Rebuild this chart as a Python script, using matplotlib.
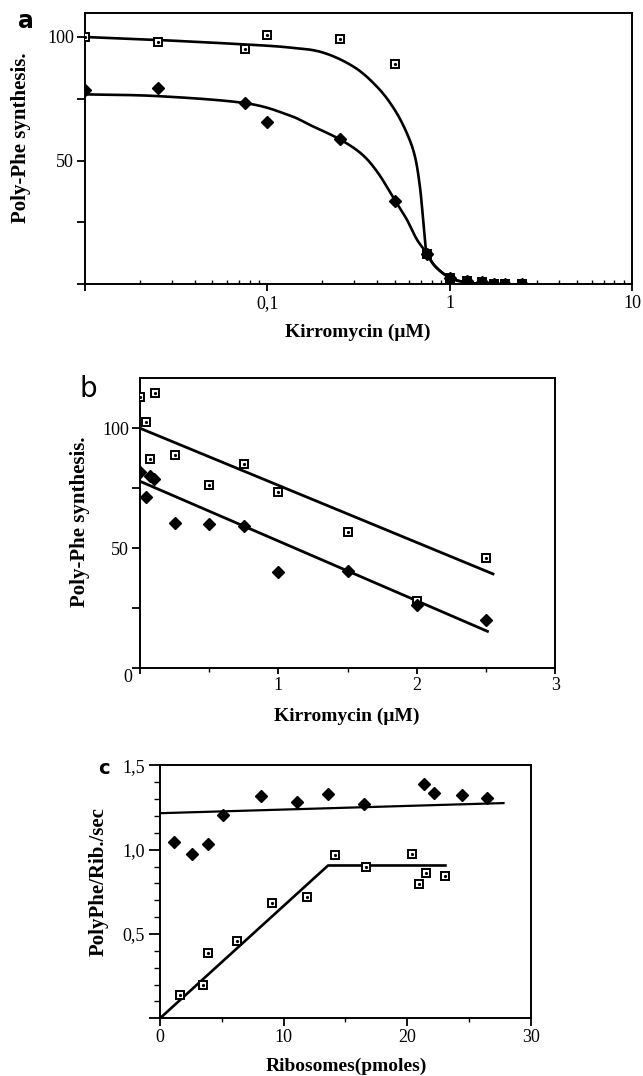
import numpy as np
import matplotlib
matplotlib.use('Agg')
import matplotlib.pyplot as plt
from matplotlib.ticker import FixedLocator, NullFormatter

# ---- panel a: kirromycin dose (log scale) ----
a_open_x = [0.01, 0.025, 0.075, 0.1, 0.25, 0.5, 0.75, 1.0, 1.25, 1.5, 1.75, 2.0, 2.5]
a_open_y = [100, 98.0, 95.0, 100.9, 99.1, 88.9, 12.4, 2.7, 1.2, 0.9, 0.3, 0.3, 0.3]
a_fill_x = [0.01, 0.025, 0.075, 0.1, 0.25, 0.5, 0.75, 1.0, 1.25, 1.5, 1.75, 2.0, 2.5]
a_fill_y = [78.4, 79.5, 73.3, 65.8, 58.6, 33.6, 12.4, 2.7, 1.2, 0.9, 0.3, 0.3, 0.3]

# hand-drawn fit curves (nodes)
a_curve_open_x = [0.01, 0.025, 0.075, 0.13, 0.2, 0.3, 0.404, 0.497, 0.581, 0.644,
                  0.686, 0.715, 0.737, 0.752, 0.83, 1.0, 1.25, 1.7, 2.5]
a_curve_open_y = [100, 98.8, 97.0, 95.8, 93.8, 87.8, 79.5, 70.8, 61.3, 51.9,
                  39.8, 26.3, 15.5, 12.4, 7.4, 2.7, 0.7, 0.0, 0.0]
a_curve_fill_x = [0.01, 0.025, 0.075, 0.129, 0.176, 0.25, 0.33, 0.404, 0.497,
                  0.581, 0.66, 0.752, 0.83, 1.0, 1.25, 1.7, 2.5]
a_curve_fill_y = [76.8, 76.1, 73.3, 68.6, 64.0, 58.6, 52.6, 45.1, 34.4,
                  26.3, 18.2, 12.4, 7.4, 2.7, 0.7, 0.0, 0.0]

# ---- panel b: kirromycin dose (linear) ----
b_open_x = [0.0, 0.107, 0.045, 0.074, 0.25, 0.5, 0.75, 1.0, 1.5, 2.0, 2.5]
b_open_y = [113.1, 114.5, 102.8, 87.2, 88.8, 76.4, 85.2, 73.5, 56.9, 28.2, 46.0]
b_fill_x = [0.0, 0.045, 0.074, 0.104, 0.25, 0.5, 0.75, 1.0, 1.5, 2.0, 2.5]
b_fill_y = [81.6, 71.3, 80.2, 79.0, 60.5, 60.1, 59.3, 40.3, 40.6, 26.4, 20.2]
# straight fits: intercept, slope, end of line
b_fit_open = (100.0, -23.8, 2.55)
b_fit_fill = (77.9, -24.9, 2.51)

# ---- panel c: ribosomes ----
c_fill_x = [1.1, 2.6, 3.9, 5.1, 8.2, 11.1, 13.6, 16.5, 21.4, 22.2, 24.4, 26.5]
c_fill_y = [1.046, 0.976, 1.034, 1.208, 1.32, 1.28, 1.328, 1.27, 1.388, 1.336, 1.324, 1.306]
c_open_x = [1.6, 3.5, 3.9, 6.2, 9.1, 11.9, 14.2, 16.7, 20.4, 21.0, 21.5, 23.1]
c_open_y = [0.136, 0.20, 0.39, 0.458, 0.684, 0.722, 0.966, 0.896, 0.976, 0.796, 0.864, 0.844]
c_line_fill_x = [0.0, 27.8]
c_line_fill_y = [1.216, 1.276]
c_line_open_x = [0.0, 13.6, 23.1]
c_line_open_y = [0.0, 0.906, 0.906]

W, H = 643, 1076
fig = plt.figure(figsize=(W / 100, H / 100), dpi=100)

serif = 'Liberation Serif'
tick_fs = 13
xlab_fs = 14
ylab_fs = 15


def rect(l, t, r, b):
    return [l / W, 1 - b / H, (r - l) / W, (b - t) / H]


def ftext(x, y, s, **kw):
    fig.text(x / W, 1 - y / H, s, **kw)


def smooth(xs, ys, n=20):
    # catmull-rom through the nodes, in log-x space
    px = np.log10(np.asarray(xs, float))
    py = np.asarray(ys, float)
    px = np.concatenate([[2 * px[0] - px[1]], px, [2 * px[-1] - px[-2]]])
    py = np.concatenate([[2 * py[0] - py[1]], py, [2 * py[-1] - py[-2]]])
    ox, oy = [], []
    t = np.linspace(0, 1, n, endpoint=False)
    for i in range(1, len(px) - 2):
        for arr, out in ((px, ox), (py, oy)):
            p0, p1, p2, p3 = arr[i - 1], arr[i], arr[i + 1], arr[i + 2]
            out.extend(0.5 * (2 * p1 + (-p0 + p2) * t + (2 * p0 - 5 * p1 + 4 * p2 - p3) * t ** 2
                              + (-p0 + 3 * p1 - 3 * p2 + p3) * t ** 3))
    ox.append(px[-2])
    oy.append(py[-2])
    return 10 ** np.array(ox), np.clip(np.array(oy), 0, None)


def open_sq(ax, x, y):
    ax.plot(x, y, ls='none', marker='s', ms=5.8, mfc='white', mec='black', mew=1.4, zorder=4)
    ax.plot(x, y, ls='none', marker='o', ms=1.3, mfc='black', mec='black', zorder=5)


def filled_dia(ax, x, y):
    ax.plot(x, y, ls='none', marker='D', ms=6.0, mfc='black', mec='black', zorder=4)


def style(ax):
    for s in ax.spines.values():
        s.set_linewidth(1.4)
    for lab in ax.get_xticklabels() + ax.get_yticklabels():
        lab.set_fontfamily(serif)
        lab.set_fontsize(tick_fs)


# ---------------- a ----------------
ax = fig.add_axes(rect(85, 13, 632, 284.3))
ax.plot(*smooth(a_curve_open_x, a_curve_open_y), color='black', lw=1.9, zorder=3)
ax.plot(*smooth(a_curve_fill_x, a_curve_fill_y), color='black', lw=1.9, zorder=3)
open_sq(ax, a_open_x, a_open_y)
filled_dia(ax, a_fill_x, a_fill_y)
ax.set_xscale('log')
ax.set_xlim(0.01, 10)
ax.set_ylim(0, 109.7)
ax.set_xticks([0.01, 0.1, 1, 10])
ax.set_xticklabels(['', '0,1', '1', '10'])
ax.xaxis.set_minor_locator(FixedLocator([m * 10.0 ** e for e in (-2, -1, 0) for m in range(2, 10)]))
ax.xaxis.set_minor_formatter(NullFormatter())
ax.set_yticks([0, 25, 50, 75, 100])
ax.set_yticklabels(['', '', '50', '', '100'])
ax.tick_params(axis='x', which='major', direction='out', length=5, width=1.3, pad=3)
ax.tick_params(axis='x', which='minor', direction='in', length=3, width=1.0)
ax.tick_params(axis='y', direction='out', length=6, width=1.3, pad=2)
style(ax)
ftext(358, 332, 'Kirromycin (μM)', family=serif, fontsize=xlab_fs, fontweight='bold',
      ha='center', va='center')
ftext(21, 138, 'Poly-Phe synthesis.', family=serif, fontsize=ylab_fs, fontweight='bold',
      ha='center', va='center', rotation=90)
ftext(26, 21, 'a', family='DejaVu Sans', fontsize=17, fontweight='bold', ha='center', va='center')

# ---------------- b ----------------
ax = fig.add_axes(rect(140, 378.3, 555.3, 668.3))
for (b0, b1, xe) in (b_fit_open, b_fit_fill):
    xs = np.array([0.0, xe])
    ax.plot(xs, b0 + b1 * xs, color='black', lw=2.0, zorder=3)
open_sq(ax, b_open_x, b_open_y)
filled_dia(ax, b_fill_x, b_fill_y)
ax.set_xlim(0, 3)
ax.set_ylim(0, 120.8)
ax.set_xticks([0, 1, 2, 3])
ax.set_xticklabels(['', '1', '2', '3'])
ax.set_xticks([0.5, 1.5, 2.5], minor=True)
ax.set_yticks([0, 25, 50, 75, 100])
ax.set_yticklabels(['', '', '50', '', '100'])
ax.tick_params(axis='x', which='major', direction='out', length=4, width=1.3, pad=2)
ax.tick_params(axis='x', which='minor', direction='out', length=3, width=1.0)
ax.tick_params(axis='y', direction='out', length=6, width=1.3, pad=2)
style(ax)
ftext(128, 678, '0', family=serif, fontsize=tick_fs, ha='center', va='center')
ftext(347, 716, 'Kirromycin (μM)', family=serif, fontsize=xlab_fs, fontweight='bold',
      ha='center', va='center')
ftext(80, 522, 'Poly-Phe synthesis.', family=serif, fontsize=ylab_fs, fontweight='bold',
      ha='center', va='center', rotation=90)
ftext(88, 389, 'b', family='DejaVu Sans', fontsize=20, ha='center', va='center')

# ---------------- c ----------------
ax = fig.add_axes(rect(160, 765.3, 530.7, 1018.3))
ax.plot(c_line_fill_x, c_line_fill_y, color='black', lw=1.6, zorder=3)
ax.plot(c_line_open_x, c_line_open_y, color='black', lw=1.9, zorder=3)
filled_dia(ax, c_fill_x, c_fill_y)
open_sq(ax, c_open_x, c_open_y)
ax.set_xlim(0, 30)
ax.set_ylim(0, 1.5)
ax.set_xticks([0, 10, 20, 30])
ax.set_xticks([5, 15, 25], minor=True)
ax.set_yticks([0, 0.5, 1.0, 1.5])
ax.set_yticklabels(['', '0,5', '1,0', '1,5'])
ax.set_yticks(np.arange(0.1, 1.5, 0.1), minor=True)
ax.tick_params(axis='x', which='major', direction='out', length=6, width=1.3, pad=2)
ax.tick_params(axis='x', which='minor', direction='out', length=3, width=1.0)
ax.tick_params(axis='y', which='major', direction='out', length=8, width=1.3, pad=3)
ax.tick_params(axis='y', which='minor', direction='out', length=4, width=1.0)
style(ax)
ftext(346, 1066, 'Ribosomes(pmoles)', family=serif, fontsize=xlab_fs, fontweight='bold',
      ha='center', va='center')
ftext(99, 882, 'PolyPhe/Rib./sec', family=serif, fontsize=ylab_fs, fontweight='bold',
      ha='center', va='center', rotation=90)
ftext(104, 769, 'c', family='DejaVu Sans', fontsize=14, fontweight='bold', ha='center', va='center')

fig.savefig('out.png', dpi=100)
